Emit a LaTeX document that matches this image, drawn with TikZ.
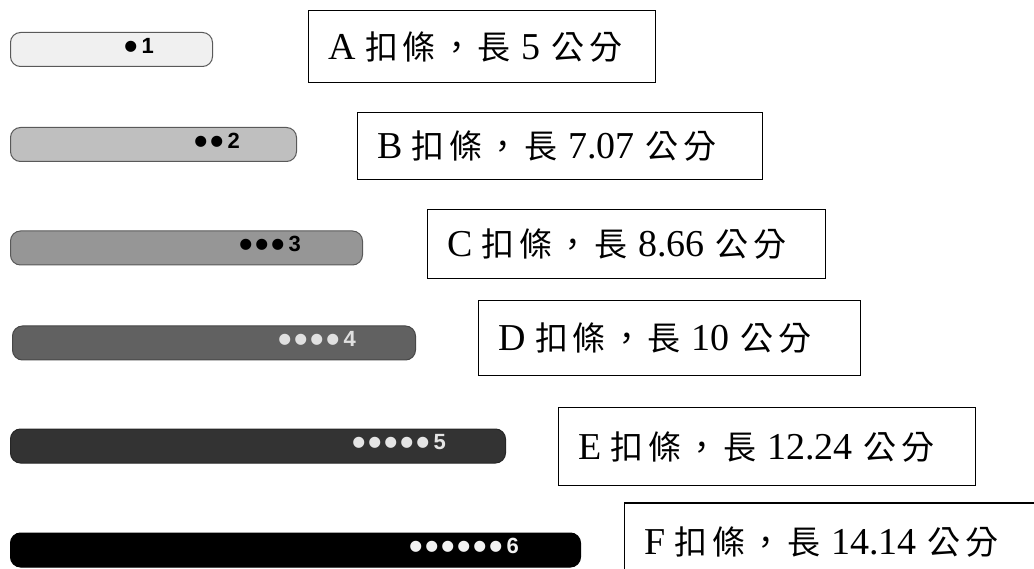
\documentclass[tikz,border=0pt]{standalone}
\usepackage{fontspec}
\setmainfont{Liberation Serif}
\newfontfamily\lat{Liberation Serif}
\newfontfamily\cjk{Noto Sans CJK TC}
\newfontfamily\barfont{Liberation Sans}
\newcommand\dt{\makebox[16pt]{\raisebox{-6pt}{\scalebox{1.75}{•}}}}
\newcommand\cj[1]{{\cjk\fontsize{33}{40}\selectfont #1}}
\newcommand\cg{\hspace{4.5pt}}
\newcommand\boxtext[2]{{\fontsize{38}{44}\selectfont\lat #1\hspace{9pt}\cj{扣}\cg\cj{條}\cg\cj{，}\cg\cj{長}\hspace{11pt}#2\hspace{11pt}\cj{公}\cg\cj{分}}}
\tikzset{
  bar/.style={draw=#1, line width=1pt, rounded corners=10pt, minimum height=34pt, anchor=west, inner sep=0pt},
  barlabel/.style={anchor=east, inner sep=0pt, font=\barfont\bfseries\fontsize{22}{22}\selectfont},
  infobox/.style={draw=black, line width=1.3pt, anchor=north west, inner xsep=20pt, inner ysep=0pt, align=left}
}
\begin{document}
\begin{tikzpicture}[x=1pt,y=-1pt]
\useasboundingbox[fill=white] (0,0) rectangle (1034,569);
% bars
\node[bar=black!65, fill=black!6, minimum width=202pt] (barA) at (10,49.5) {};
\node[bar=black!65, fill=black!25, minimum width=286pt] (barB) at (10,144.5) {};
\node[bar=black!65, fill=black!41, minimum width=352pt] (barC) at (10,248) {};
\node[bar=black!72, fill=black!62, minimum width=403pt] (barD) at (12,343) {};
\node[bar=black!85, fill=black!80, minimum width=495pt] (barE) at (10,446) {};
\node[bar=black, fill=black, minimum width=570pt] (barF) at (10,550) {};
% bar labels
\node[barlabel, text=black] (labA) at ([xshift=-59pt,yshift=1pt]barA.east) {\dt\hspace{2pt}1};
\node[barlabel, text=black] (labB) at ([xshift=-57pt,yshift=1pt]barB.east) {\dt\dt\hspace{2pt}2};
\node[barlabel, text=black] (labC) at ([xshift=-62pt,yshift=1pt]barC.east) {\dt\dt\dt\hspace{2pt}3};
\node[barlabel, text=black!12] (labD) at ([xshift=-60pt,yshift=1pt]barD.east) {\dt\dt\dt\dt\hspace{2pt}4};
\node[barlabel, text=black!10] (labE) at ([xshift=-60pt,yshift=1pt]barE.east) {\dt\dt\dt\dt\dt\hspace{2pt}5};
\node[barlabel, text=black!5] (labF) at ([xshift=-62pt,yshift=1pt]barF.east) {\dt\dt\dt\dt\dt\dt\hspace{2pt}6};
% info boxes
\node[infobox, minimum width=347pt, minimum height=72pt, text width=307pt] (boxA) at (308,10) {\boxtext{A}{5}};
\node[infobox, minimum width=405pt, minimum height=67pt, text width=365pt] (boxB) at (357,112) {\boxtext{B}{7.07}};
\node[infobox, minimum width=398pt, minimum height=69pt, text width=358pt] (boxC) at (427,209) {\boxtext{C}{8.66}};
\node[infobox, minimum width=382pt, minimum height=75pt, text width=342pt] (boxD) at (478,300) {\boxtext{D}{10}};
\node[infobox, minimum width=417pt, minimum height=78pt, text width=377pt] (boxE) at (558,407) {\boxtext{E}{12.24}};
\node[infobox, minimum width=440pt, minimum height=78pt, text width=400pt, anchor=west] (boxF) at (624,542) {\boxtext{F}{14.14}};
\end{tikzpicture}
\end{document}
